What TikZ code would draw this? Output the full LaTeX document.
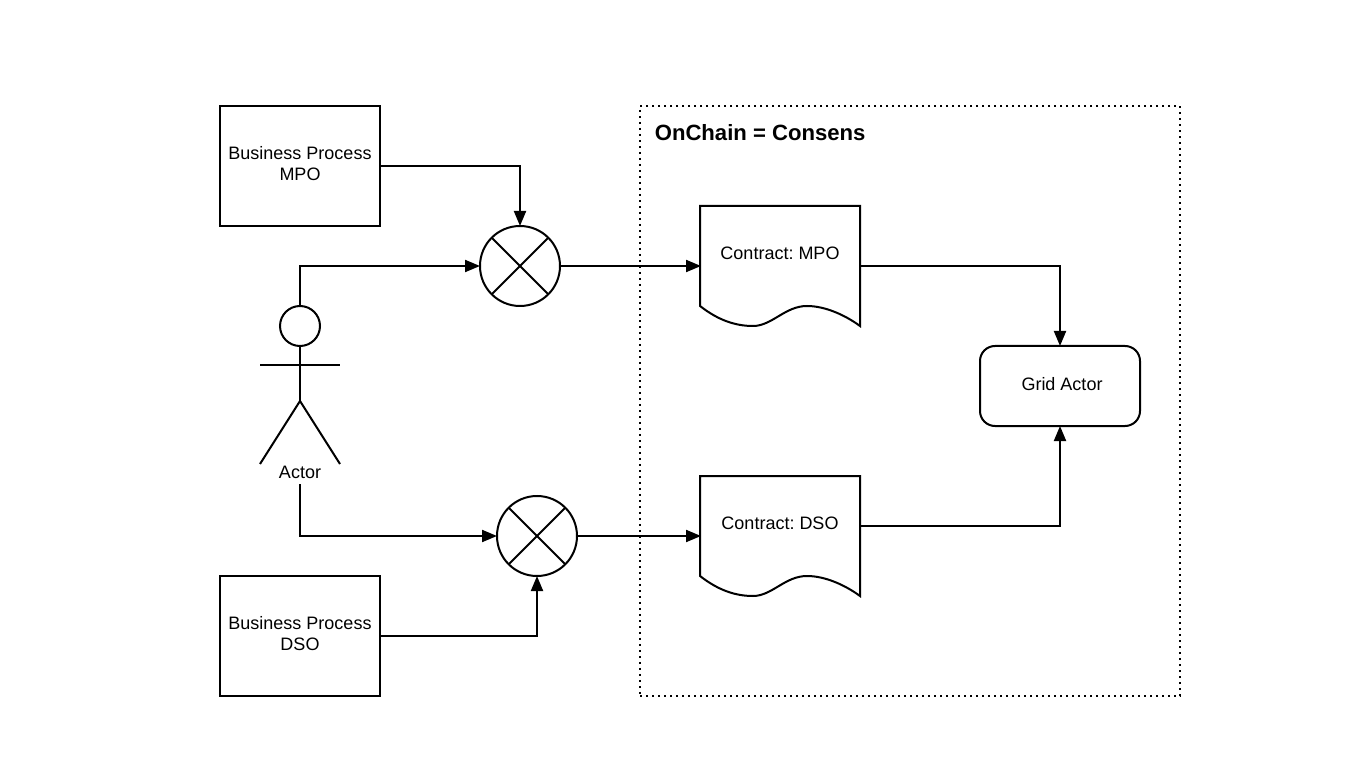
\documentclass[tikz,border=0pt]{standalone}
\usepackage{fontspec}
\setmainfont{Liberation Sans}
\usetikzlibrary{arrows.meta}
\tikzset{
  shape line/.style={line width=2pt, black},
  process box/.style={shape line, draw, minimum width=160pt, minimum height=120pt},
  doc box/.style={minimum width=160pt, minimum height=120pt, inner sep=0pt, outer sep=0pt},
  sum junction/.style={shape line, draw, circle, minimum size=80pt, inner sep=0pt,
    path picture={
      \draw[shape line] (path picture bounding box.45) -- (path picture bounding box.225);
      \draw[shape line] (path picture bounding box.135) -- (path picture bounding box.315);
    }},
  flow/.style={shape line, -{Triangle[length=15pt,width=12pt]}, shorten >=-1pt},
  body text/.style={font=\fontsize{18}{21}\selectfont, inner sep=0pt, align=center}
}
\begin{document}
\frenchspacing
\begin{tikzpicture}[x=1pt, y=-1pt]
  \useasboundingbox[fill=white] (0,0) rectangle (1360,783);

  % on-chain frame
  \node[draw, line width=2pt, dash pattern=on 2pt off 4pt, minimum width=540pt, minimum height=590pt, inner sep=0pt] (onchain) at (910,401) {};
  \node[font=\fontsize{22.1}{26}\bfseries\selectfont, anchor=west, inner sep=0pt] (onchaintitle) at (654.6,133) {OnChain = Consens};

  % processes and actor
  \node[process box] (processmpo) at (300,166) {};
  \node[process box] (processdso) at (300,636) {};
  \node[body text] (labelprocessmpo) at (300,163.5) {Business Process\\MPO};
  \node[body text] (labelprocessdso) at (300,633.5) {Business Process\\DSO};
  \node[shape line, draw, circle, minimum size=40pt, inner sep=0pt] (actorhead) at (300,326) {};
  \coordinate (hip) at (300,401);
  \draw[shape line] (actorhead.south) -- (hip);
  \draw[shape line] (260,365.5) -- (340,365.5);
  \draw[shape line] (260,464) -- (hip) -- (340,464);
  \node[body text, minimum height=24pt] (actorlabel) at (300,472) {Actor};

  % junctions
  \node[sum junction] (summpo) at (520,266) {};
  \node[sum junction] (sumdso) at (537,536) {};

  % contracts
  \node[doc box] (contractmpo) at (780,266) {};
  \node[doc box] (contractdso) at (780,536) {};
  \foreach \doc in {contractmpo,contractdso} {
    \draw[shape line, fill=white] (\doc.south west) ++(0,-20)
      .. controls +(18,14) and +(-18,0) .. ++(53,20)
      .. controls +(19,0) and +(-22,0) .. ++(54,-20)
      .. controls +(18,0) and +(-15,-11) .. ++(53,20)
      -- (\doc.north east) -- (\doc.north west) -- cycle;
  }
  \node[body text] (labelmpo) at (780,253.5) {Contract: MPO};
  \node[body text] (labeldso) at (780,523.5) {Contract: DSO};

  \node[shape line, draw, rounded corners=15pt, minimum width=160pt, minimum height=80pt] (gridactor) at (1060,386) {};
  \node[body text] (gridlabel) at (1062,384) {Grid Actor};

  % connectors
  \draw[flow] (processmpo.east) -| (summpo.north);
  \draw[flow] (actorhead.north) |- (summpo.west);
  \draw[flow] (summpo.east) -- (contractmpo.west);
  \draw[flow] (actorlabel.south) |- (sumdso.west);
  \draw[flow] (processdso.east) -| (sumdso.south);
  \draw[flow] (sumdso.east) -- (contractdso.west);
  \draw[flow] (contractmpo.east) -| (gridactor.north);
  \draw[flow] ([yshift=10pt]contractdso.east) -| (gridactor.south);
\end{tikzpicture}
\end{document}
